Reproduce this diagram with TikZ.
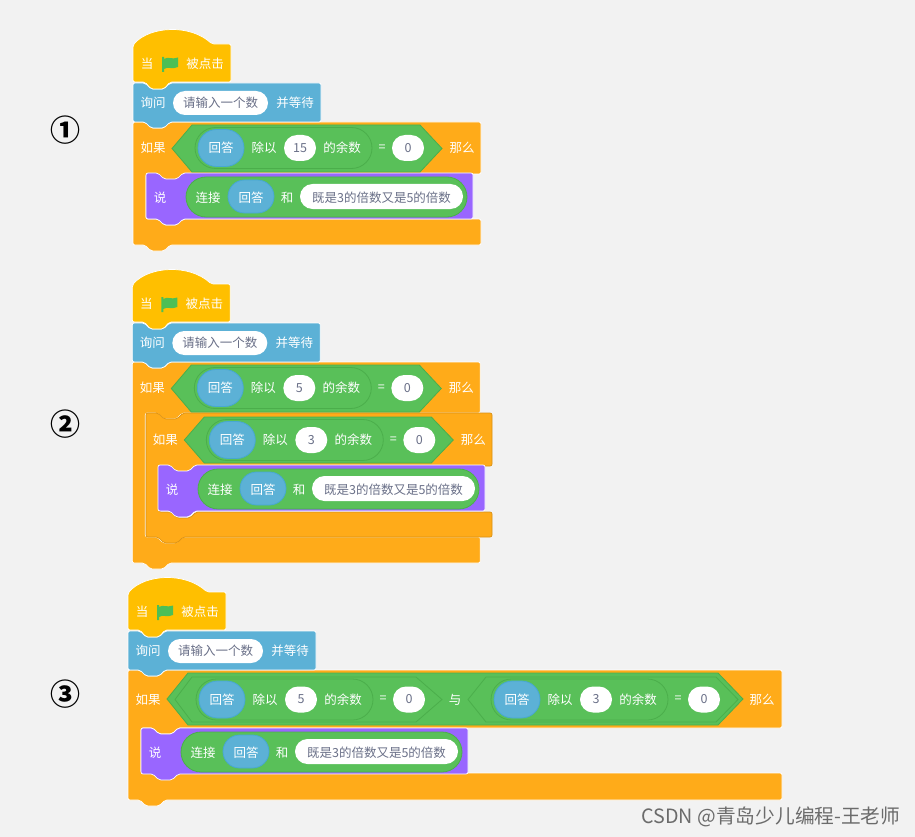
\documentclass[tikz,border=0pt]{standalone}
\usepackage{fontspec}
\setmainfont{Noto Sans CJK SC}
\newfontfamily\circfont{Noto Sans CJK SC}
\definecolor{bgc}{HTML}{F2F2F2}
\definecolor{hatc}{HTML}{FFBF00}
\definecolor{askc}{HTML}{5CB1D6}
\definecolor{ctlc}{HTML}{FFAB19}
\definecolor{sayc}{HTML}{9966FF}
\definecolor{grnc}{HTML}{59C059}
\definecolor{grnd}{HTML}{4BAE4B}
\definecolor{blued}{HTML}{47A8D1}
\definecolor{inkc}{HTML}{6A7088}
\definecolor{flagc}{HTML}{4CBF56}
\tikzset{
  blk/.style={draw=white,line width=0.7pt,rounded corners=2pt},
  lab/.style={inner sep=0pt,text=white,font=\fontsize{12.5}{13}\selectfont},
  ink/.style={inner sep=0pt,text=inkc,font=\fontsize{12.5}{13}\selectfont},
  num/.style={inner sep=0pt,text=black,font=\circfont\bfseries\fontsize{30}{31}\selectfont},
  val/.style={fill=white},
  hexa/.style={fill=grnc,draw=grnd,line width=0.8pt},
  rep/.style={fill=askc,draw=blued,line width=0.8pt},
  oper/.style={fill=grnc,draw=grnd,line width=0.8pt},
}
% pill: l t r b style
\newcommand{\pill}[5]{\path[#5,rounded corners={(#4-#2)/2*1pt}] (#1,#2) rectangle (#3,#4);}
% hexagon: l s1 s2 r t b
\newcommand{\hexshape}[6]{\path[hexa] (#1,{(#5+#6)/2}) -- (#2,#5) -- (#3,#5) -- (#4,{(#5+#6)/2}) -- (#3,#6) -- (#2,#6) -- cycle;}
% plain stack block: l t r b colour
\newcommand{\stackblock}[5]{\path[blk,fill=#5] (#1,#2) -- ({#1+12},#2) -- ({#1+18},{#2+6}) -- ({#1+31},{#2+6}) -- ({#1+37},#2) -- (#3,#2) -- (#3,#4) -- ({#1+37},#4) -- ({#1+31},{#4+6}) -- ({#1+18},{#4+6}) -- ({#1+12},#4) -- (#1,#4) -- cycle;}
% C block: l t r armb bt bb
\newcommand{\cblock}[7][white]{\path[blk,draw=#1,fill=ctlc] (#2,#3) -- ({#2+12},#3) -- ({#2+18},{#3+6}) -- ({#2+31},{#3+6}) -- ({#2+37},#3) -- (#4,#3) -- (#4,#5) -- ({#2+50},#5) -- ({#2+44},{#5+6}) -- ({#2+31},{#5+6}) -- ({#2+25},#5) -- ({#2+13},#5) -- ({#2+13},#6) -- ({#2+25},#6) -- ({#2+31},{#6+6}) -- ({#2+44},{#6+6}) -- ({#2+50},#6) -- (#4,#6) -- (#4,#7) -- ({#2+37},#7) -- ({#2+31},{#7+6}) -- ({#2+18},{#7+6}) -- ({#2+12},#7) -- (#2,#7) -- cycle;}
% head of a stack: hat and ask block
\newcommand{\headblocks}{%
  \stackblock{133}{83}{321}{122}{askc}
  \path[blk,fill=hatc] (133,82) -- (133,45) .. controls (150,26) and (190,24) .. (212,44) -- (231,44) -- (231,82) -- (170,82) -- (164,89) -- (151,89) -- (145,82) -- cycle;
  \path[fill=flagc] (162,57) -- (164,57) -- (164,59) .. controls (168,56) and (172,60) .. (178,57.5) -- (178,67) .. controls (172,70) and (168,66) .. (164,69) -- (164,72) -- (162,72) -- cycle;
  \node[lab] (hatA) at (147,64) {当};
  \node[lab] (hatB) at (205,64) {被点击};
  \node[lab] (askA) at (153,103) {询问};
  \pill{173}{91}{268}{115}{val}
  \node[ink] (askV) at (220.5,103) {请输入一个数};
  \node[lab] (askB) at (295,103) {并等待};
}
% remainder expression at origin #1,#2 with value #3
\newcommand{\modexpr}[3]{%
  \begin{scope}[shift={(#1,#2)}]
    \pill{0}{-20.5}{177}{20.5}{oper}
    \pill{3}{-18.5}{49}{18.5}{rep}
    \node[lab] (ans) at (26,0) {回答};
    \node[lab] (div) at (69,0) {除以};
    \pill{89}{-13}{121}{13}{val}
    \node[ink] (valn) at (105,0) {#3};
    \node[lab] (rem) at (147,0) {的余数};
    \node[lab] (eq) at (187,0) {=};
    \pill{197}{-13}{229}{13}{val}
    \node[ink] (zero) at (213,0) {0};
  \end{scope}}
% say block at left #1, top #2
\newcommand{\saystmt}[2]{%
  \begin{scope}[shift={(#1,#2)}]
    \stackblock{0}{0}{327}{46}{sayc}
    \node[lab] (say) at (14,25) {说};
    \pill{40}{4}{321}{44}{oper}
    \node[lab] (joinA) at (62,25) {连接};
    \pill{82}{7}{128}{40}{rep}
    \node[lab] (joinV) at (105,25) {回答};
    \node[lab] (joinB) at (141,25) {和};
    \pill{154}{11}{317}{36}{val}
    \node[ink] (joinT) at (235.5,24.5) {既是3的倍数又是5的倍数};
  \end{scope}}
\begin{document}
\begin{tikzpicture}[x=1pt,y=-1pt]
\useasboundingbox (0,0) rectangle (915,837);
\fill[bgc] (0,0) rectangle (915,837);
\node[num] (n1) at (65,130) {①};
\node[num] (n2) at (65,424) {②};
\node[num] (n3) at (65,694) {③};
% stack 1
\begin{scope}[name prefix=s1-]
  \cblock{133}{122}{481}{174}{219}{245}
  \saystmt{146}{173}
  \hexshape{172}{192}{420}{442}{125}{172}
  \modexpr{195}{148}{15}
  \node[lab] (ifA) at (153,148) {如果};
  \node[lab] (ifB) at (462,148) {那么};
  \headblocks
\end{scope}
% stack 2
\begin{scope}[shift={(-0.7,240)},name prefix=s2-]
  \cblock{133}{122}{481}{173}{297}{323}
  \cblock[ctlc!85!black]{146.7}{173}{492.7}{226}{272}{297}
  \saystmt{158.7}{225}
  \hexshape{172}{192}{420}{442}{125}{172}
  \modexpr{195}{148}{5}
  \node[lab] (ifA) at (153,148) {如果};
  \node[lab] (ifB) at (462,148) {那么};
  \begin{scope}[name prefix=s2i-]
    \hexshape{185}{205}{432}{454}{177}{223}
    \modexpr{207}{200}{3}
    \node[lab] (ifA) at (166,200) {如果};
    \node[lab] (ifB) at (474,200) {那么};
  \end{scope}
  \headblocks
\end{scope}
% stack 3
\begin{scope}[shift={(-5,548)},name prefix=s3-]
  \cblock{133}{122}{787}{180}{225}{252}
  \saystmt{146}{180}
  \hexshape{172}{193}{723}{748}{125}{177}
  \begin{scope}[name prefix=a-]
    \hexshape{180}{197}{421}{447}{129}{174}
    \modexpr{201}{151.5}{5}
  \end{scope}
  \node[lab] (andop) at (460,151.5) {与};
  \begin{scope}[name prefix=b-]
    \hexshape{473}{491}{721}{743}{129}{174}
    \modexpr{496}{151.5}{3}
  \end{scope}
  \node[lab] (ifA) at (153,151.5) {如果};
  \node[lab] (ifB) at (767,151.5) {那么};
  \headblocks
\end{scope}
\node[inner sep=0pt,text=black!58,font=\fontsize{19.7}{20}\selectfont] (mark) at (771,817) {CSDN @青岛少儿编程-王老师};
\end{tikzpicture}
\end{document}
